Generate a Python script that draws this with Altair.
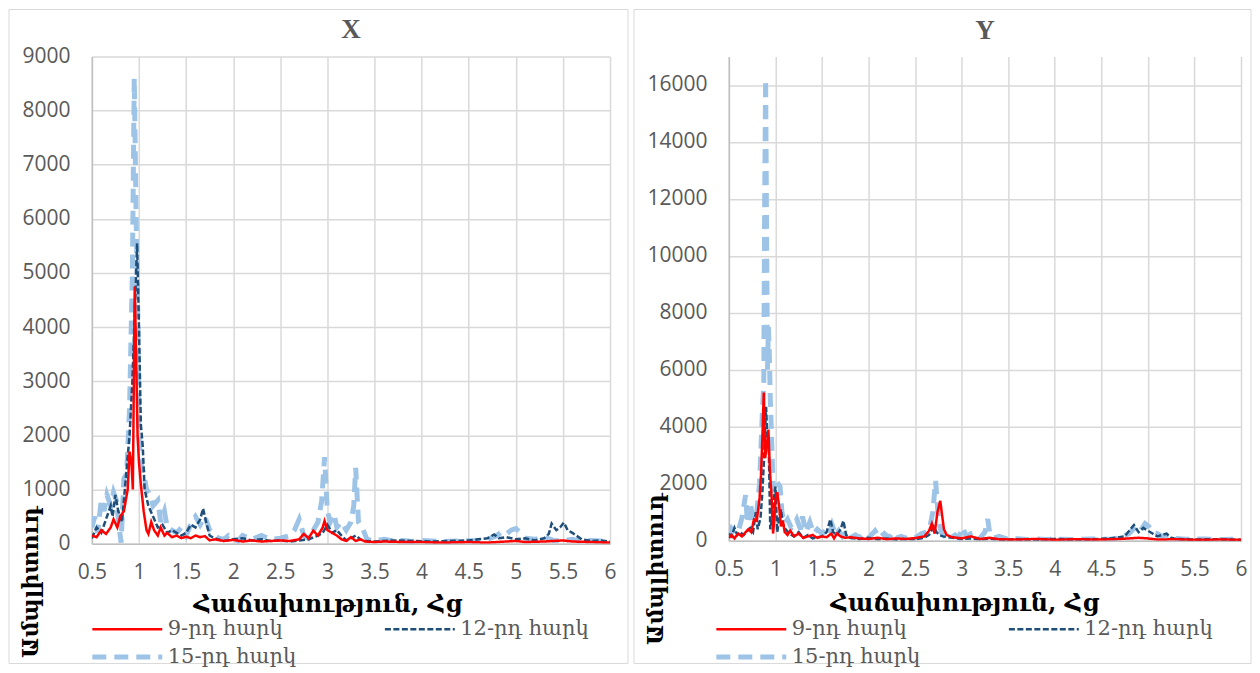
import altair as alt
import pandas as pd

SERIES = ["9-րդ հարկ", "12-րդ հարկ", "15-րդ հարկ"]
COLORS = ["#ff0000", "#1f4e79", "#9dc3e6"]
DASHES = [[1, 0], [6, 2.5], [14, 8]]
WIDTHS = [2.5, 2.5, 5]

X_TICKS = [0.5, 1, 1.5, 2, 2.5, 3, 3.5, 4, 4.5, 5, 5.5, 6]
YX_TICKS = [0, 1000, 2000, 3000, 4000, 5000, 6000, 7000, 8000, 9000]
YY_TICKS = [0, 2000, 4000, 6000, 8000, 10000, 12000, 14000, 16000]

# ---------------- X panel ----------------
x9_f = [0.50, 0.55, 0.60, 0.65, 0.70, 0.73, 0.77, 0.80, 0.84, 0.88, 0.90, 0.92, 0.935, 0.955, 0.97, 0.985,
        1.00, 1.02, 1.05, 1.08, 1.10, 1.13, 1.16, 1.20, 1.23, 1.27, 1.30, 1.35, 1.40, 1.45, 1.50, 1.55,
        1.60, 1.65, 1.70, 1.75, 1.80, 1.90, 2.0, 2.1, 2.2, 2.3, 2.4, 2.5, 2.6, 2.7, 2.75, 2.80, 2.85,
        2.90, 2.95, 2.97, 3.00, 3.05, 3.10, 3.15, 3.20, 3.25, 3.30, 3.35, 3.40, 3.5, 3.6, 3.8, 4.0, 4.2,
        4.5, 4.7, 4.9, 5.0, 5.1, 5.3, 5.5, 5.6, 5.8, 6.0]
x9_v = [150, 120, 250, 180, 300, 450, 300, 500, 600, 1000, 1700, 1500, 1000, 4750, 3500, 2000,
        1500, 1100, 600, 250, 180, 400, 250, 150, 300, 150, 200, 120, 150, 100, 130, 100,
        150, 120, 140, 60, 80, 50, 70, 40, 60, 40, 50, 60, 50, 80, 180, 100, 240,
        150, 300, 420, 250, 200, 150, 80, 50, 120, 50, 80, 40, 30, 40, 30, 30, 20,
        30, 20, 40, 50, 30, 40, 60, 40, 30, 20]

x12_f = [0.50, 0.55, 0.60, 0.65, 0.70, 0.72, 0.75, 0.78, 0.82, 0.85, 0.90, 0.93, 0.96, 0.98, 1.00, 1.02,
         1.04, 1.06, 1.10, 1.15, 1.20, 1.25, 1.30, 1.35, 1.40, 1.45, 1.50, 1.55, 1.60, 1.65, 1.68, 1.72,
         1.75, 1.80, 1.90, 2.0, 2.1, 2.2, 2.3, 2.4, 2.5, 2.6, 2.7, 2.8, 2.9, 2.95, 3.0, 3.05, 3.1, 3.15,
         3.2, 3.25, 3.3, 3.35, 3.4, 3.5, 3.7, 3.9, 4.1, 4.3, 4.5, 4.6, 4.7, 4.77, 4.82, 4.9, 5.0, 5.1,
         5.2, 5.3, 5.35, 5.38, 5.43, 5.47, 5.51, 5.55, 5.6, 5.7, 5.8, 5.9, 6.0]
x12_v = [100, 300, 200, 450, 700, 500, 900, 600, 400, 1000, 2000, 3000, 4500, 5550, 4000, 2200,
         1800, 1000, 700, 500, 300, 350, 200, 250, 200, 150, 200, 350, 300, 450, 650, 350,
         150, 100, 50, 80, 100, 60, 80, 50, 60, 40, 60, 80, 150, 200, 350, 200, 250, 150,
         60, 100, 150, 80, 50, 40, 60, 50, 40, 50, 60, 80, 100, 170, 100, 120, 80, 100,
         60, 100, 180, 370, 250, 300, 390, 250, 200, 80, 50, 60, 40]

x15_f = [0.50, 0.53, 0.56, 0.60, 0.63, 0.66, 0.70, 0.73, 0.76, 0.79, 0.81, 0.84, 0.87, 0.90, 0.93, 0.95,
         0.97, 0.99, 1.00, 1.02, 1.05, 1.08, 1.12, 1.15, 1.20, 1.23, 1.27, 1.30, 1.35, 1.40, 1.45, 1.50,
         1.55, 1.60, 1.65, 1.70, 1.75, 1.80, 1.85, 1.90, 1.95, 2.0, 2.05, 2.1, 2.2, 2.3, 2.4, 2.5, 2.6,
         2.65, 2.7, 2.75, 2.8, 2.85, 2.9, 2.94, 2.97, 3.0, 3.03, 3.07, 3.1, 3.15, 3.2, 3.25, 3.28, 3.3,
         3.33, 3.37, 3.42, 3.5, 3.6, 3.7, 3.8, 3.9, 4.0, 4.2, 4.4, 4.6, 4.7, 4.8, 4.85, 4.9, 4.95, 5.0,
         5.05, 5.1, 5.2, 5.3, 5.4, 5.5, 5.6, 5.7, 5.8, 5.9, 6.0]
x15_v = [300, 500, 200, 800, 600, 900, 700, 950, 800, 300, 20, 1200, 1300, 2500, 5000, 8600,
         6000, 4000, 2000, 1500, 1300, 1000, 900, 700, 800, 400, 600, 300, 250, 200, 300, 150,
         350, 500, 350, 500, 250, 150, 100, 80, 150, 100, 50, 150, 80, 150, 80, 100, 150,
         250, 450, 150, 100, 250, 400, 800, 1600, 600, 400, 550, 300, 400, 250, 400, 700, 1400,
         400, 300, 80, 50, 80, 50, 60, 40, 60, 40, 50, 60, 80, 150, 220, 180, 250, 280,
         200, 100, 80, 120, 60, 50, 80, 40, 60, 50, 40]

# ---------------- Y panel ----------------
y9_f = [0.50, 0.53, 0.56, 0.60, 0.64, 0.68, 0.71, 0.74, 0.77, 0.80, 0.83, 0.845, 0.86, 0.875, 0.89, 0.91,
        0.925, 0.94, 0.96, 0.975, 0.99, 1.00, 1.02, 1.04, 1.06, 1.08, 1.10, 1.13, 1.16, 1.2, 1.25, 1.3,
        1.35, 1.4, 1.45, 1.5, 1.55, 1.6, 1.63, 1.66, 1.7, 1.75, 1.8, 1.9, 2.0, 2.1, 2.2, 2.3, 2.4, 2.5,
        2.6, 2.65, 2.68, 2.71, 2.74, 2.77, 2.79, 2.81, 2.84, 2.9, 3.0, 3.1, 3.2, 3.3, 3.4, 3.6, 3.8, 4.0,
        4.2, 4.5, 4.7, 4.9, 5.0, 5.1, 5.3, 5.5, 5.8, 6.0]
y9_v = [100, 200, 80, 250, 150, 300, 400, 300, 750, 700, 1500, 2300, 3600, 5200, 2900, 3400,
        3900, 2500, 1500, 250, 800, 1450, 1700, 1200, 500, 700, 300, 200, 350, 150, 250, 100,
        150, 200, 100, 150, 120, 250, 80, 250, 150, 100, 120, 80, 60, 100, 50, 80, 60, 90,
        150, 350, 600, 250, 1000, 1400, 900, 400, 200, 120, 80, 150, 60, 100, 50, 40, 60, 30,
        50, 40, 60, 100, 80, 40, 50, 30, 40, 30]

y12_f = [0.50, 0.53, 0.56, 0.59, 0.62, 0.66, 0.70, 0.73, 0.76, 0.79, 0.81, 0.84, 0.86, 0.88, 0.90, 0.915,
         0.93, 0.945, 0.96, 0.98, 1.0, 1.02, 1.04, 1.06, 1.08, 1.11, 1.15, 1.2, 1.25, 1.3, 1.35, 1.4,
         1.5, 1.55, 1.59, 1.62, 1.66, 1.70, 1.73, 1.76, 1.8, 1.9, 2.0, 2.1, 2.2, 2.3, 2.4, 2.5, 2.6,
         2.65, 2.7, 2.73, 2.76, 2.8, 2.9, 3.0, 3.1, 3.2, 3.3, 3.4, 3.6, 3.8, 4.0, 4.2, 4.4, 4.6, 4.75,
         4.85, 4.9, 4.95, 5.0, 5.05, 5.1, 5.2, 5.25, 5.3, 5.5, 5.7, 5.9, 6.0]
y12_v = [250, 150, 450, 200, 300, 200, 350, 450, 300, 1000, 400, 800, 1700, 3000, 4700, 3500,
         3100, 400, 700, 1400, 1900, 300, 800, 1100, 600, 400, 250, 150, 300, 100, 200, 80,
         150, 300, 750, 300, 200, 400, 700, 200, 100, 60, 100, 50, 80, 40, 60, 50, 100,
         200, 500, 300, 200, 150, 100, 60, 80, 50, 70, 40, 50, 40, 60, 40, 50, 80, 150,
         550, 300, 450, 350, 250, 150, 250, 100, 60, 40, 50, 40, 30]

y15_f = [0.50, 0.53, 0.56, 0.60, 0.64, 0.68, 0.70, 0.73, 0.76, 0.80, 0.83, 0.86, 0.875, 0.885, 0.895, 0.905,
         0.915, 0.925, 0.935, 0.945, 0.96, 0.975, 0.99, 1.02, 1.05, 1.07, 1.1, 1.13, 1.17, 1.2, 1.23, 1.27,
         1.29, 1.33, 1.37, 1.41, 1.45, 1.5, 1.54, 1.58, 1.61, 1.65, 1.68, 1.72, 1.76, 1.8, 1.86, 1.9, 1.95,
         2.0, 2.07, 2.12, 2.17, 2.22, 2.26, 2.3, 2.35, 2.4, 2.45, 2.5, 2.57, 2.62, 2.66, 2.69, 2.72, 2.75,
         2.78, 2.82, 2.88, 2.93, 2.97, 3.01, 3.05, 3.1, 3.15, 3.2, 3.25, 3.28, 3.3, 3.35, 3.4, 3.5, 3.6,
         3.7, 3.8, 3.9, 4.0, 4.2, 4.4, 4.6, 4.7, 4.8, 4.87, 4.92, 4.97, 5.01, 5.05, 5.1, 5.15, 5.22, 5.3,
         5.4, 5.6, 5.8, 6.0]
y15_v = [100, 400, 250, 300, 800, 1600, 600, 1350, 700, 1000, 2000, 4500, 5500, 12000, 16200, 11000,
         6000, 7500, 6500, 5000, 3500, 2000, 1700, 2050, 1900, 1000, 600, 750, 450, 550, 750, 400,
         850, 300, 650, 250, 400, 250, 350, 200, 550, 200, 350, 150, 300, 100, 200, 100, 250,
         100, 350, 100, 250, 100, 300, 100, 150, 80, 200, 100, 250, 300, 500, 1000, 2100, 800,
         300, 150, 100, 200, 100, 470, 150, 250, 300, 100, 300, 760, 300, 100, 150, 50, 70,
         40, 60, 40, 50, 40, 60, 50, 100, 250, 500, 350, 600, 500, 300, 250, 150, 200, 80,
         50, 60, 40, 50]


def make_df(pairs):
    rows = []
    for name, fs, vs in pairs:
        for f, v in zip(fs, vs):
            rows.append({"f": f, "v": v, "s": name})
    return pd.DataFrame(rows)


df_x = make_df([(SERIES[0], x9_f, x9_v), (SERIES[1], x12_f, x12_v), (SERIES[2], x15_f, x15_v)])
df_y = make_df([(SERIES[0], y9_f, y9_v), (SERIES[1], y12_f, y12_v), (SERIES[2], y15_f, y15_v)])

LABEL_FONT = "Open Sans"
SERIF = "DejaVu Serif"
GRAY = "#595959"


def panel(df, title, title_offset, ymax, yticks, width, height, ytitle_x, ytitle_y,
          xtitle_y, legend_x, legend_y, frame):
    legend = alt.Legend(
        title=None, orient="none", legendX=legend_x, legendY=legend_y, columns=2,
        direction="horizontal",
        symbolType="M-1,0H6", symbolSize=400, labelFont=SERIF, labelFontSize=21,
        labelColor=GRAY, labelOffset=53, columnPadding=83, rowPadding=5, padding=0,
        labelLimit=400,
    )
    xaxis = alt.Axis(
        values=X_TICKS, format="~g", labelFont=LABEL_FONT, labelFontSize=21, labelColor=GRAY,
        labelPadding=18, ticks=False, tickSize=0, labelFlush=False, labelOverlap=False,
        domainColor="#bfbfbf", domainWidth=1.5, gridColor="#d9d9d9", gridWidth=1.5,
        title="Հաճախություն, Հց", titleFont=SERIF, titleFontSize=24, titleFontWeight="bold",
        titleColor="black", titleX=236, titleY=xtitle_y, titleAlign="center",
        titleBaseline="middle",
    )
    yaxis = alt.Axis(
        values=yticks, format="d", labelFont=LABEL_FONT, labelFontSize=21, labelColor=GRAY,
        labelPadding=22, ticks=False, tickSize=0, labelFlush=False, labelOverlap=False,
        domainColor="#bfbfbf", domainWidth=1.5, gridColor="#d9d9d9", gridWidth=1.5,
        title="Ամպլիտուդ", titleFont=SERIF, titleFontSize=22, titleFontWeight="bold",
        titleColor="black", titleAngle=270, titleX=ytitle_x, titleY=ytitle_y,
        titleAlign="left", titleBaseline="middle",
    )
    enc = dict(
        x=alt.X("f:Q", scale=alt.Scale(domain=[0.5, 6], nice=False, zero=False), axis=xaxis),
        y=alt.Y("v:Q", scale=alt.Scale(domain=[0, ymax], nice=False), axis=yaxis),
        color=alt.Color("s:N", scale=alt.Scale(domain=SERIES, range=COLORS), legend=legend),
        strokeDash=alt.StrokeDash("s:N", scale=alt.Scale(domain=SERIES, range=DASHES), legend=legend),
        strokeWidth=alt.StrokeWidth("s:N", scale=alt.Scale(type="ordinal", domain=SERIES, range=WIDTHS),
                                    legend=legend),
    )
    layers = []
    box = alt.Chart(pd.DataFrame({"k": [0]})).mark_rect(
        fillOpacity=0, stroke="#d9d9d9", strokeWidth=1
    ).encode(
        x=alt.value(frame[0]), x2=alt.value(frame[1]),
        y=alt.value(frame[2]), y2=alt.value(frame[3]),
    )
    layers.append(box)
    for name in reversed(SERIES):
        layers.append(
            alt.Chart(df).transform_filter(alt.datum.s == name).mark_line(clip=True).encode(**enc)
        )
    return alt.layer(*layers).properties(
        width=width, height=height,
        title=alt.TitleParams(title, font="Liberation Serif", fontSize=27, fontWeight="bold",
                              color=GRAY, anchor="middle", offset=title_offset),
    )


left = panel(df_x, "X", -35, 9000, YX_TICKS, 519, 488, -61, 602, 61, -2, 562,
             (-83, 537, -47, 608))
right = panel(df_y, "Y", -36, 17000, YY_TICKS, 513, 485, -73, 589, 63, -15, 562,
              (-95, 523, -47, 608))

chart = alt.hconcat(left, right, spacing=4).resolve_scale(
    x="independent", y="independent", color="independent",
    strokeDash="independent", strokeWidth="independent",
).resolve_legend(
    color="independent", strokeDash="independent", strokeWidth="independent"
).properties(padding=0, background="white").configure_view(strokeWidth=0)

chart.save("out.html", embed_options={"renderer": "svg", "actions": False})
